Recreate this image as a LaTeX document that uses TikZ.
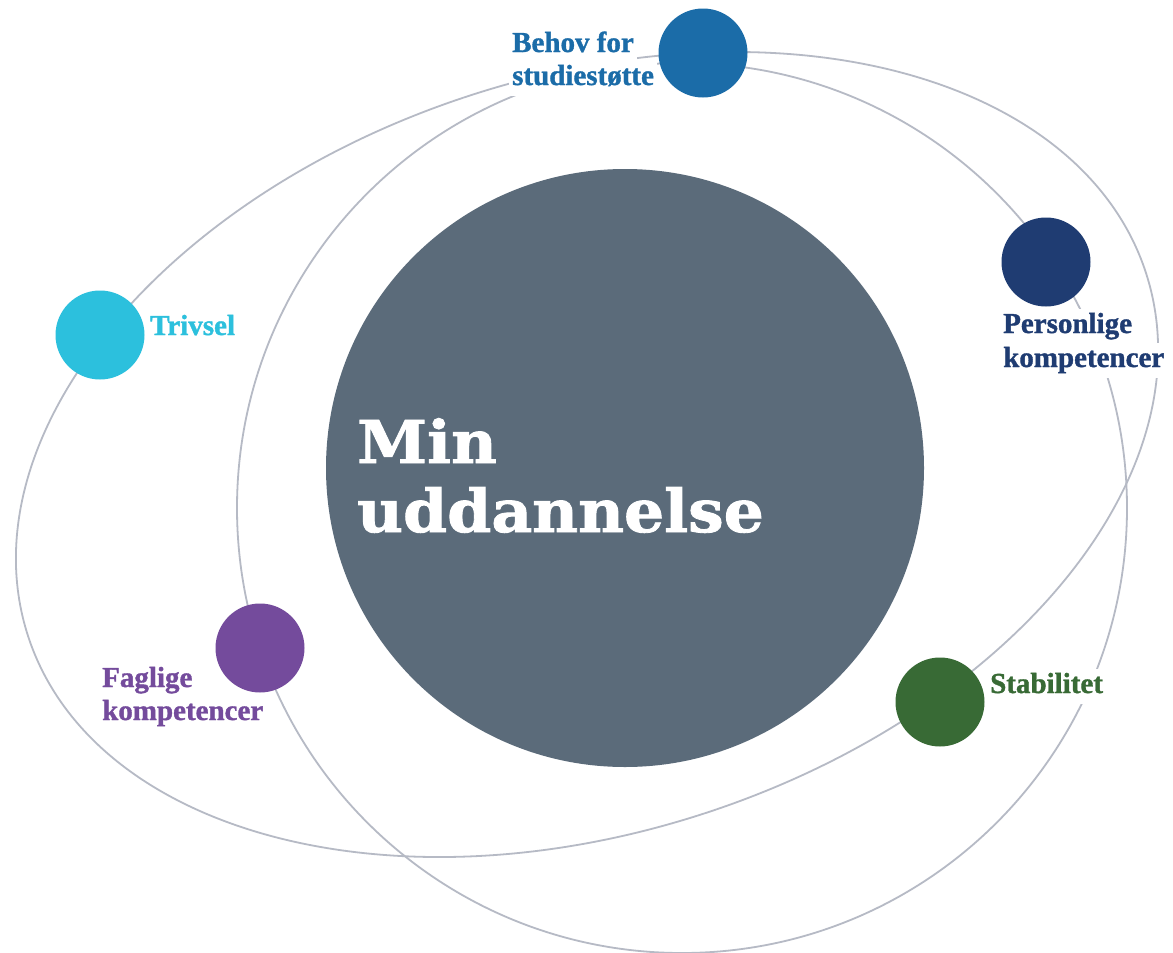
\documentclass[tikz,border=0pt]{standalone}
\usepackage{fontspec}
\setmainfont{Liberation Serif}[BoldFeatures={FakeBold=1.2}]
\newfontfamily\titlefont{DejaVu Serif}[FakeStretch=1.07, BoldFeatures={FakeBold=1.5}]
\definecolor{behovc}{HTML}{1B6CA8}
\definecolor{persc}{HTML}{1F3C72}
\definecolor{trivc}{HTML}{2CC0DD}
\definecolor{fagc}{HTML}{744B9C}
\definecolor{stabc}{HTML}{386A35}
\definecolor{mainc}{HTML}{5B6B7A}
\definecolor{orbitgrey}{HTML}{B6BAC5}
\begin{document}
\begin{tikzpicture}[x=1pt,y=-1pt,
  orbit/.style={draw=orbitgrey, line width=1.8pt},
  dot/.style={circle, inner sep=0pt, minimum size=89pt},
  lbl/.style={anchor=base west, font=\bfseries\fontsize{29}{33}\selectfont,
    fill=white, inner xsep=3pt, inner ysep=2pt, text height=22pt, text depth=9pt},
  titletext/.style={anchor=base west, text=white, inner sep=0pt,
    font=\titlefont\bfseries\fontsize{59}{69}\selectfont}]
\useasboundingbox (0,0) rectangle (1173,953);
\fill[white] (0,0) rectangle (1173,953);
% orbit centres
\coordinate (ocA) at (587,454.5);
\coordinate (ocB) at (682,508);
% orbits
\draw[orbit, rotate around={18:(ocA)}] (ocA) ellipse [x radius=587.7pt, y radius=377.6pt];
\draw[orbit] (ocB) ellipse [x radius=445pt, y radius=445pt];
% labels
\node[lbl, text=behovc] (behovA) at (509,52) {Behov for};
\node[lbl, text=behovc] (behovB) at (509,85) {studiestøtte};
\node[lbl, text=persc] (persA) at (1000,333) {Personlige};
\node[lbl, text=persc] (persB) at (1000,367) {kompetencer};
\node[lbl, text=trivc] (trivA) at (147,335) {Trivsel};
\node[lbl, text=fagc] (fagA) at (99,687) {Faglige};
\node[lbl, text=fagc] (fagB) at (99,720) {kompetencer};
\node[lbl, text=stabc] (stabA) at (987,693) {Stabilitet};
% circles
\node[dot, fill=behovc] (behov) at (703,53) {};
\node[dot, fill=persc] (pers) at (1046,262) {};
\node[dot, fill=trivc] (triv) at (100,335) {};
\node[dot, fill=fagc] (fag) at (260,648) {};
\node[dot, fill=stabc] (stab) at (940,702) {};
\node[circle, fill=mainc, inner sep=0pt, minimum size=598pt] (main) at (625,468) {};
\node[titletext] (title1) at (357,463) {Min};
\node[titletext] (title2) at (357,532) {uddannelse};
\end{tikzpicture}
\end{document}
